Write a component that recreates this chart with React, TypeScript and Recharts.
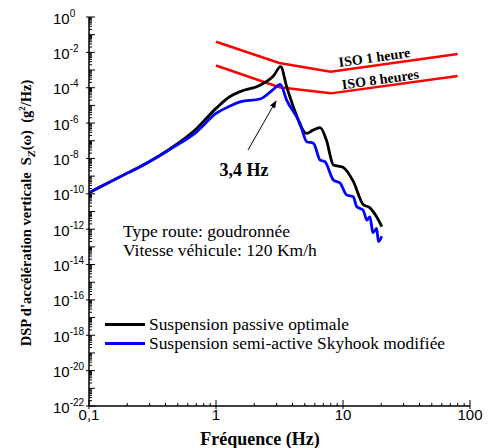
import React from "react";
import { LineChart, Line, XAxis, YAxis, Legend } from "recharts";

// frequencies (Hz) and PSD (g²/Hz)
const passiveFreq = [0.1, 0.2, 0.284, 0.46, 0.705, 1.0, 1.29, 1.55, 2.22, 2.83, 3.23, 3.6, 4.06, 5.18, 5.8, 6.6, 7.4, 8.4, 10, 12.05, 14.4, 16.3, 18.4, 20.2];
const passivePsd = [1.15e-10, 1.48e-9, 5.4e-9, 4.6e-8, 5.0e-7, 6.8e-6, 3.2e-5, 6.0e-5, 1.4e-4, 4.6e-4, 1.55e-3, 1.15e-4, 8.5e-6, 2.6e-7, 4.0e-7, 5.5e-7, 1.1e-7, 4.3e-9, 3.2e-9, 5.0e-10, 2.5e-11, 1.6e-11, 5.0e-12, 1.4e-12];

const skyhookFreq = [0.1, 0.2, 0.284, 0.46, 0.705, 1.0, 1.29, 1.55, 2.22, 2.83, 3.2, 3.6, 4.58, 5.18, 5.85, 6.6, 7.2, 8.4, 9.5, 10.7, 12.05, 12.8, 14.4, 15.4, 16.3, 17.2, 18.4, 19.0, 20.2];
const skyhookPsd = [1.15e-10, 1.48e-9, 5.4e-9, 4.2e-8, 3.2e-7, 3.5e-6, 9.3e-6, 1.6e-5, 2.3e-5, 8.1e-5, 1.55e-4, 2.0e-5, 9.8e-7, 8.9e-8, 7.2e-8, 8.1e-9, 6.6e-9, 6.0e-10, 3.9e-10, 8.5e-11, 6.9e-11, 1.9e-11, 1.2e-11, 3.3e-12, 5.0e-12, 6.3e-13, 1.1e-12, 2.0e-13, 4.0e-13];

const isoFreq = [1, 3.15, 8, 80];
const iso1hPsd = [0.04, 2.5e-3, 8e-4, 8e-3];
const iso8hPsd = [1.8e-3, 1.07e-4, 4.8e-5, 4.6e-4];

const xMajorTicks = [0.1, 1, 10, 100];
const xTickLabels = ["0,1", "1", "10", "100"];
const yLabelExponents = [0, -2, -4, -6, -8, -10, -12, -14, -16, -18, -20, -22];

const zip = (f: number[], v: number[]) => f.map((x, i) => ({ f: x, v: v[i] }));

const xTicks: number[] = [];
[0.1, 1, 10].forEach((d) => {
  for (let m = 1; m <= 9; m++) xTicks.push(Number((m * d).toPrecision(3)));
});
xTicks.push(100);

const yTicks: number[] = [];
for (let e = -22; e < 0; e++) {
  for (let m = 1; m <= 9; m++) yTicks.push(Number(`${m}e${e}`));
}
yTicks.push(1);

const SANS = "'Liberation Sans', Arial, sans-serif";
const SERIF = "'Liberation Serif', 'Times New Roman', serif";

const isDecade = (v: number) => Math.abs(Math.log10(v) - Math.round(Math.log10(v))) < 1e-6;

const BottomTick = (props: any) => {
  const { x, y, payload } = props;
  const idx = xMajorTicks.findIndex((t) => Math.abs(t - payload.value) / t < 1e-6);
  const major = idx >= 0;
  return (
    <g>
      <line x1={x} x2={x} y1={y + (major ? 3 : 0)} y2={y - (major ? 6 : 3)} stroke="#000" />
      {major && (
        <text x={x} y={y + 14} textAnchor="middle" fontFamily={SANS} fontSize={15} fill="#000">
          {xTickLabels[idx]}
        </text>
      )}
    </g>
  );
};

const TopTick = (props: any) => {
  const { x, y, payload } = props;
  const major = isDecade(payload.value);
  return <line x1={x} x2={x} y1={y} y2={y + (major ? 6 : 3)} stroke="#000" />;
};

const LeftTick = (props: any) => {
  const { x, y, payload } = props;
  const major = isDecade(payload.value);
  const exp = Math.round(Math.log10(payload.value));
  const labelled = major && yLabelExponents.includes(exp);
  return (
    <g>
      <line x1={x - (labelled ? 3 : 0)} x2={x + (major ? 6 : 3)} y1={y} y2={y} stroke="#000" />
      {labelled && (
        <text x={53} y={y + 6.5} fontFamily={SANS} fontSize={15} fill="#000">
          10
          <tspan dy={-7} fontSize={10}>
            {exp}
          </tspan>
        </text>
      )}
    </g>
  );
};

const RightTick = (props: any) => {
  const { x, y, payload } = props;
  const major = isDecade(payload.value);
  return <line x1={x} x2={x - (major ? 6 : 3)} y1={y} y2={y} stroke="#000" />;
};

const LegendBox = (props: any) => {
  const items = (props.payload || []).filter((p: any) => p.type !== "none");
  return (
    <div style={{ fontFamily: SERIF, fontSize: 17.4, color: "#000", lineHeight: "19px" }}>
      {items.map((p: any) => (
        <div key={p.value} style={{ display: "flex", alignItems: "center", height: 19 }}>
          <div style={{ width: 40, height: 3, background: p.color, marginRight: 4 }} />
          <span style={{ whiteSpace: "nowrap" }}>{p.value}</span>
        </div>
      ))}
    </div>
  );
};

export default function App() {
  return (
    <div style={{ position: "absolute", left: 0, top: 0, width: 491, height: 448, background: "#fff" }}>
      <LineChart width={491} height={448} margin={{ top: 17, right: 21, bottom: 0, left: 0 }}>
        <XAxis
          xAxisId="b"
          dataKey="f"
          type="number"
          scale="log"
          domain={[0.1, 100]}
          allowDataOverflow
          ticks={xTicks}
          interval={0}
          tickSize={0}
          tickMargin={0}
          tick={<BottomTick />}
          axisLine={{ stroke: "#000", strokeWidth: 1.5 }}
          height={42}
        />
        <XAxis
          xAxisId="t"
          orientation="top"
          dataKey="f"
          type="number"
          scale="log"
          domain={[0.1, 100]}
          allowDataOverflow
          ticks={xTicks}
          interval={0}
          tickSize={0}
          tickMargin={0}
          tick={<TopTick />}
          axisLine={{ stroke: "#000", strokeWidth: 1.5 }}
          height={0}
        />
        <YAxis
          yAxisId="l"
          type="number"
          scale="log"
          domain={[1e-22, 1]}
          allowDataOverflow
          ticks={yTicks}
          interval={0}
          tickSize={0}
          tickMargin={0}
          tick={<LeftTick />}
          axisLine={{ stroke: "#000", strokeWidth: 1.5 }}
          width={89}
        />
        <YAxis
          yAxisId="r"
          orientation="right"
          type="number"
          scale="log"
          domain={[1e-22, 1]}
          allowDataOverflow
          ticks={yTicks}
          interval={0}
          tickSize={0}
          tickMargin={0}
          tick={<RightTick />}
          axisLine={{ stroke: "#000", strokeWidth: 1.5 }}
          width={0}
        />
        <Line
          xAxisId="b"
          yAxisId="l"
          data={zip(isoFreq, iso1hPsd)}
          dataKey="v"
          type="linear"
          stroke="#ff0000"
          strokeWidth={2.5}
          dot={false}
          legendType="none"
          isAnimationActive={false}
        />
        <Line
          xAxisId="b"
          yAxisId="l"
          data={zip(isoFreq, iso8hPsd)}
          dataKey="v"
          type="linear"
          stroke="#ff0000"
          strokeWidth={2.5}
          dot={false}
          legendType="none"
          isAnimationActive={false}
        />
        <Line
          xAxisId="b"
          yAxisId="l"
          name="Suspension passive optimale"
          data={zip(passiveFreq, passivePsd)}
          dataKey="v"
          type="monotoneX"
          stroke="#000000"
          strokeWidth={2.8}
          dot={false}
          isAnimationActive={false}
        />
        <Line
          xAxisId="b"
          yAxisId="l"
          name="Suspension semi-active Skyhook modifiée"
          data={zip(skyhookFreq, skyhookPsd)}
          dataKey="v"
          type="monotoneX"
          stroke="#0000ff"
          strokeWidth={2.8}
          dot={false}
          isAnimationActive={false}
        />
        <Legend
          verticalAlign="middle"
          align="center"
          content={<LegendBox />}
          wrapperStyle={{ left: 105, top: 315, width: 360 }}
        />
      </LineChart>
      <svg
        width={491}
        height={448}
        style={{ position: "absolute", left: 0, top: 0, pointerEvents: "none" }}
      >
        <defs>
          <marker id="ah" markerWidth="8" markerHeight="8" refX="7" refY="4" orient="auto">
            <path d="M0,1 L8,4 L0,7 Z" fill="#000" />
          </marker>
        </defs>
        <text
          x={375}
          y={62}
          textAnchor="middle"
          fontFamily={SERIF}
          fontWeight="bold"
          fontSize={14}
          transform="rotate(-8 375 62)"
        >
          ISO 1 heure
        </text>
        <text
          x={381}
          y={84}
          textAnchor="middle"
          fontFamily={SERIF}
          fontWeight="bold"
          fontSize={14}
          transform="rotate(-8 381 84)"
        >
          ISO 8 heures
        </text>
        <line x1={248} y1={150} x2={276} y2={101} stroke="#000" strokeWidth={1} markerEnd="url(#ah)" />
        <text x={244} y={176} textAnchor="middle" fontFamily={SERIF} fontWeight="bold" fontSize={18}>
          3,4 Hz
        </text>
        <text x={123} y={237} fontFamily={SERIF} fontSize={17.5}>
          Type route: goudronnée
        </text>
        <text x={123} y={256} fontFamily={SERIF} fontSize={17.5}>
          Vitesse véhicule: 120 Km/h
        </text>
        <text x={260} y={445} textAnchor="middle" fontFamily={SERIF} fontWeight="bold" fontSize={18}>
          Fréquence (Hz)
        </text>
        <text
          x={31}
          y={213}
          textAnchor="middle"
          fontFamily={SERIF}
          fontWeight="bold"
          fontSize={14.5}
          transform="rotate(-90 31 213)"
        >
          DSP d'accélération verticale{"\u00A0\u00A0"}S
          <tspan dy={4} fontSize={11} fontStyle="italic">
            Z
          </tspan>
          <tspan dy={-4}>(ω){"\u00A0\u00A0"}(g</tspan>
          <tspan dy={-6} fontSize={9}>
            2
          </tspan>
          <tspan dy={6}>/Hz)</tspan>
        </text>
      </svg>
    </div>
  );
}
